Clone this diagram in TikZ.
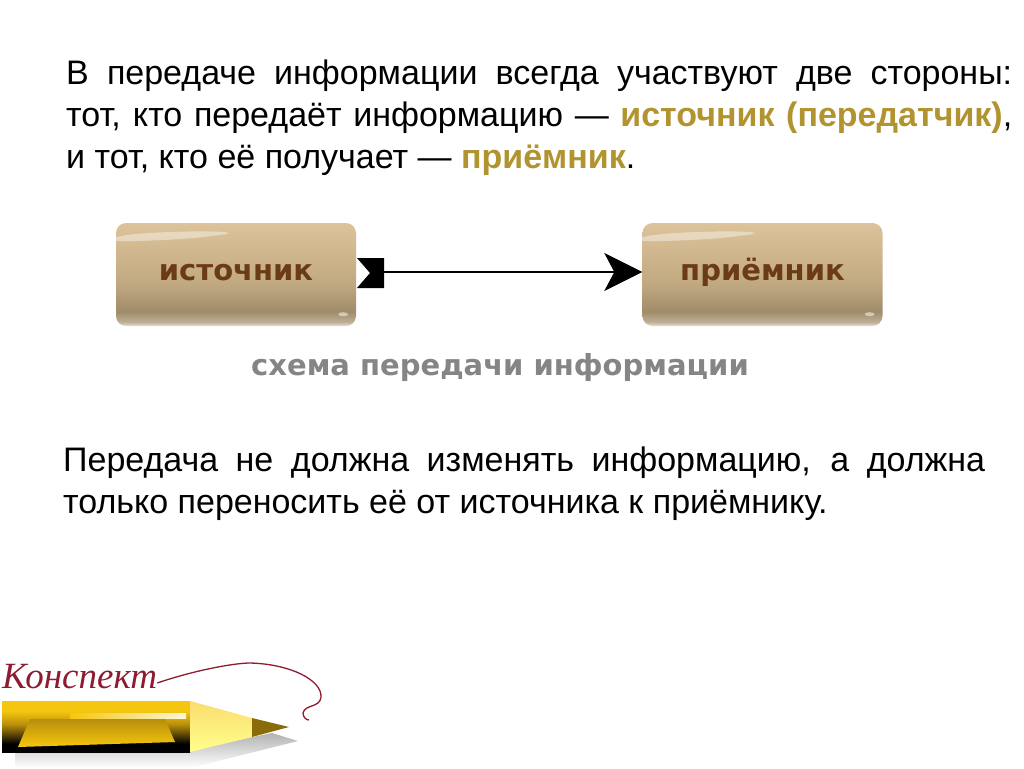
\documentclass[tikz,border=0pt]{standalone}
\usepackage{fontspec}
\setmainfont{Liberation Sans}
\newfontfamily\scriptface{Liberation Serif}
\newfontfamily\wideface{DejaVu Sans}
\usetikzlibrary{arrows.meta}
\definecolor{gold}{HTML}{B1932F}
\definecolor{boxtext}{HTML}{6A3B14}
\definecolor{ink}{HTML}{8E1B30}
\definecolor{boxtop}{HTML}{DCC39B}
\definecolor{boxmid}{HTML}{CDB48B}
\definecolor{boxlow}{HTML}{A08C6A}
\definecolor{leadlow}{HTML}{B88E0C}
\definecolor{leadtop}{HTML}{F5C60F}
\pgfdeclareverticalshading{boxshade}{100bp}{
  color(0bp)=(white!60!boxmid); color(25bp)=(white!60!boxmid); color(27bp)=(boxlow!70!white); color(32bp)=(boxlow);
  color(45bp)=(boxmid!70!boxlow); color(58bp)=(boxmid); color(70bp)=(boxtop!70!boxmid); color(75bp)=(boxtop); color(100bp)=(boxtop)}
\pgfdeclareverticalshading{leadshade}{100bp}{
  color(0bp)=(black); color(25bp)=(black); color(33bp)=(black); color(52bp)=(leadlow); color(65bp)=(leadtop); color(75bp)=(leadtop); color(100bp)=(leadtop)}
\tikzset{
  txt/.style={anchor=base west,inner sep=0pt,font=\fontsize{34}{40}\selectfont},
  widetxt/.style={font=\wideface\bfseries\fontsize{29}{35}\selectfont},
  stagebox/.style={widetxt,minimum width=240pt,minimum height=103pt,inner sep=0pt,rounded corners=10pt,
    shading=boxshade,text=boxtext,text height=20pt,text depth=8pt},
}
\newcommand{\hlword}[1]{\textcolor{gold}{\bfseries #1}}
\begin{document}
\begin{tikzpicture}[x=1pt,y=-1pt]
\useasboundingbox (0,0) rectangle (1024,768);
% text
\foreach \y/\x/\A in {84/66/{В передаче информации всегда участвуют две стороны:},
    126/66/{тот, кто передаёт информацию — \hlword{источник (передатчик)},}} {
    \node[txt] at (\x,\y) {\makebox[946pt][s]{\A}};
}
\node[txt] (line3) at (66,168) {и тот, кто её получает — \hlword{приёмник}.};
\node[txt] (para1) at (63,471) {\makebox[922pt][s]{Передача не должна изменять информацию, а должна}};
\node[txt] (para2) at (63,513) {только переносить её от источника к приёмнику.};
% boxes
\node[stagebox] (source) at (236,274.5) {источник};
\node[stagebox] (receiver) at (762.5,274.5) {приёмник};
\foreach \b in {source,receiver} {
    \fill[white,opacity=.4] (\b.north west) ++(2,14) .. controls +(25,-7) and +(60,-6) .. ++(95,-1)
        .. controls +(-35,6) and +(-65,7) .. cycle;
    \fill[white,opacity=.5] (\b.south east) ++(-13,-12) ellipse (5 and 2);
}
\coordinate (tail) at (384,272);
\fill[black] (357,258) -- (tail|-0,258) -- (tail|-0,288) -- (357,288) -- (370,273) -- cycle;
\draw[line width=2pt,-{Stealth[length=38pt,width=38pt,inset=10pt]}] (tail) -- (receiver.west|-tail);
\node[widetxt,text=black!48] (caption) at (500,367) {схема передачи информации};
% pencil
\shade[top color=black!30,bottom color=white] (15,750) -- (15,768) -- (190,768) -- (298,741) -- (272,733) -- (190,750) -- cycle;
\shade[shading=leadshade] (2,701) rectangle (190,752);
\shade[top color=leadlow,bottom color=leadtop] (18,747) -- (30,719) -- (165,719) -- (175,742) -- cycle;
\shade[left color=leadtop,right color=white!85!leadtop] (70,713) rectangle (186,718);
\shade[top color=leadtop!60!white,bottom color=yellow!45!white] (190,701) -- (252,718) -- (252,737) -- (190,752) -- cycle;
\fill[leadlow!75!black] (252,718) -- (289,727) -- (252,737) -- cycle;
% signature
\node[anchor=base west,inner sep=0pt,text=ink,font=\scriptface\itshape\fontsize{37}{44}\selectfont] (title) at (2,688) {Конспект};
\draw[ink,line width=1.3pt] (title.base east) ++(0,-5) .. controls (195,670) and (235,663) .. (250,663)
    .. controls (290,664) and (322,680) .. (321,697)
    .. controls (320,708) and (305,704) .. (303,713) .. controls (303,717) and (306,720) .. (309,720);
\end{tikzpicture}
\end{document}
